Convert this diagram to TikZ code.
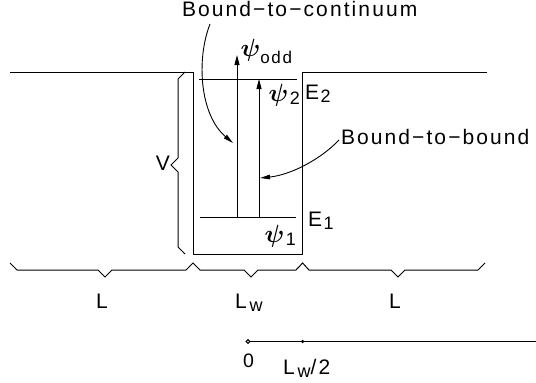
\documentclass[tikz,border=0pt]{standalone}
\usepackage{fontspec}
\setmainfont{Liberation Sans}[LetterSpace=10]
\usepackage{bm}
\usetikzlibrary{arrows.meta}
\newcommand\sbx[1]{\kern1.5pt\raisebox{-3.5pt}{\fontsize{18}{18}\selectfont #1}}
\begin{document}
\begin{tikzpicture}[x=1pt,y=-1pt,line width=1pt,
  lab/.style={inner sep=0pt,font=\fontsize{21}{22}\selectfont},
  small/.style={inner sep=0pt,font=\fontsize{19.5}{20}\selectfont},
  psi/.style={inner sep=0pt,font=\fontsize{23}{24}\selectfont},
  tip/.style={-{Triangle[length=10pt,width=5pt]}},
  lead/.style={line width=0.9pt,-{Triangle[length=10pt,width=4.5pt]}}]
\useasboundingbox (0,0) rectangle (536,383);
% potential well
\draw (10,72) -- (193,72) -- (193,254) -- (302.6,254) -- (302.6,72) -- (487,72);
% energy levels
\draw (199,79) -- (297,79);
\draw (200,217.7) -- (296,217.7);
% transitions
\coordinate (oddbase) at (237,217.7);
\coordinate (oddtop) at (237,55);
\coordinate (twobase) at (259,217.7);
\coordinate (twotop) at (259,79);
\draw[tip] (oddbase) -- (oddtop);
\draw[tip] (twobase) -- (twotop);
% V brace
\draw (185,72) -- (178,79) -- (178,158) -- (171,165) -- (178,172) -- (178,247) -- (185,254);
% bottom brace
\draw (10,263) -- (17,270) -- (98,270) -- (105,277) -- (112,270) -- (186,270) -- (193,263) -- (200,270)
  -- (244,270) -- (251,277) -- (258,270) -- (296,270) -- (302.6,263) -- (309,270) -- (391,270)
  -- (398,277) -- (405,270) -- (478,270) -- (485,263);
% labels
\node[lab,anchor=base west] (btc) at (181.5,16) {Bound−to−continuum};
\node[lab,anchor=base west] (btb) at (340.5,144) {Bound−to−bound};
\coordinate (c1) at (210,24);
\coordinate (c2) at (233,143);
\draw[lead] (c1) .. controls (196,60) and (200,115) .. (c2);
\coordinate (b1) at (339,140);
\coordinate (b2) at (260,178);
\draw[lead] (b1) .. controls (320,160) and (290,175) .. (b2);
\node[lab,anchor=base] (V) at (163,170) {V};
\node[lab,anchor=base west] (E2) at (304.5,99) {E\sbx{2}};
\node[lab,anchor=base west] (E1) at (307.5,226) {E\sbx{1}};
\node[psi,anchor=west] (psiodd) at (240,51) {$\bm\psi$\raisebox{-7pt}{\fontsize{17}{17}\selectfont odd}};
\node[psi,anchor=west] (psi2) at (268,95) {$\bm\psi$\sbx{2}};
\node[psi,anchor=west] (psi1) at (264,236) {$\bm\psi$\sbx{1}};
\node[lab,anchor=base] (L1) at (102,308) {L};
\node[lab,anchor=base west] (Lw) at (234.5,308) {L\kern1.5pt\sbx{w}};
\node[lab,anchor=base] (L2) at (395,308) {L};
% axis
\coordinate (axend) at (536,341.5);
\fill (302.6,341.5) circle (1.8pt) coordinate (half);
\draw (248,341.5) circle (1.8pt);
\coordinate (zero) at (249.8,341.5);
\draw (zero) -- (axend);
\node[small,anchor=base] (z) at (248.5,367) {0};
\node[lab,anchor=base west] (Lw2) at (282.5,374) {L\kern1.5pt\sbx{w}/2};
\end{tikzpicture}
\end{document}
